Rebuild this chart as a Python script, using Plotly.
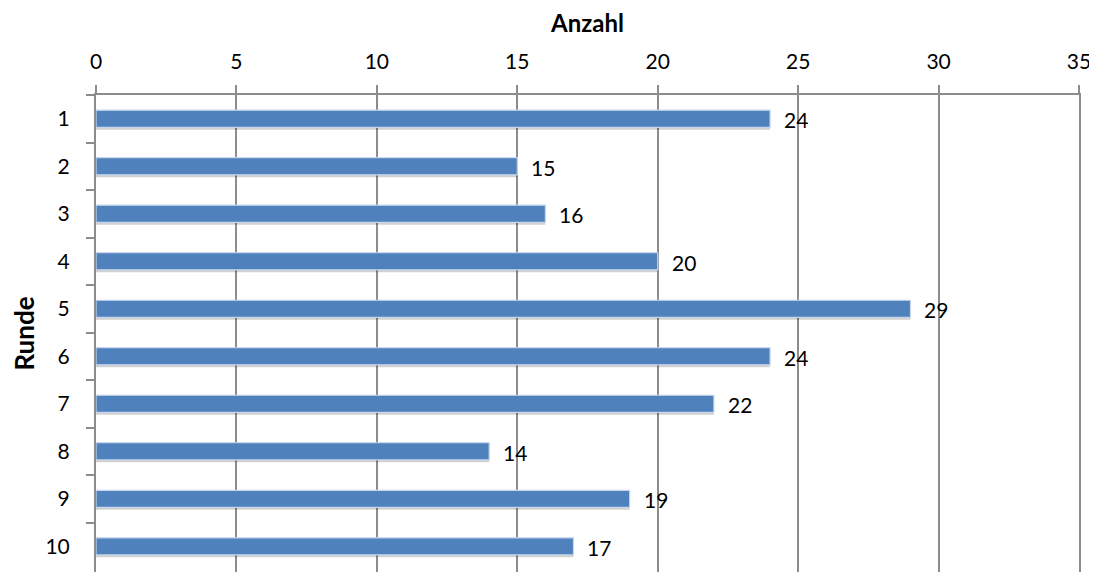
import plotly.graph_objects as go

runden = ["1", "2", "3", "4", "5", "6", "7", "8", "9", "10"]
anzahl = [24, 15, 16, 20, 29, 24, 22, 14, 19, 17]
x_ticks = [0, 5, 10, 15, 20, 25, 30, 35]

FONT = "Lato"

fig = go.Figure()
# soft shadow under each bar
fig.add_trace(go.Bar(
    x=anzahl, y=runden, orientation="h",
    marker=dict(color="rgba(0,0,0,0.18)", line=dict(width=0)),
    width=0.36, offset=-0.13, hoverinfo="skip",
))
fig.add_trace(go.Bar(
    x=anzahl, y=runden, orientation="h",
    marker=dict(color="#4F81BD", line=dict(color="#C6D6EC", width=1.2)),
    width=0.36, offset=-0.18, hoverinfo="skip",
))

for i, v in enumerate(anzahl):
    fig.add_annotation(x=v, y=i, text=str(v), showarrow=False,
                       xanchor="left", xshift=12, yshift=-1,
                       font=dict(family=FONT, size=21, color="#000000"))

fig.update_layout(
    width=1089, height=564,
    margin=dict(l=88, r=18, t=87, b=0),
    paper_bgcolor="white", plot_bgcolor="white",
    showlegend=False, barmode="overlay",
    font=dict(family=FONT, size=21, color="#000000"),
    xaxis=dict(
        side="top", range=[0, 35], tickvals=x_ticks,
        ticktext=[str(t) for t in x_ticks],
        showgrid=True, gridcolor="#8C8C8C", gridwidth=1.5,
        showline=True, linecolor="#8C8C8C", linewidth=2,
        ticks="outside", ticklen=8, tickcolor="#8C8C8C", tickwidth=1.5,
        zeroline=False, automargin=False,
        tickfont=dict(family=FONT, size=21),
        ticklabelstandoff=8,
        title=dict(text="<b>Anzahl</b>", font=dict(family=FONT, size=24), standoff=10),
    ),
    yaxis=dict(
        type="category", categoryorder="array", categoryarray=runden,
        range=[9.54, -0.5],
        showline=True, linecolor="#8C8C8C", linewidth=2, mirror=True,
        ticks="outside", tickson="boundaries", ticklen=8,
        tickcolor="#8C8C8C", tickwidth=1.5,
        showgrid=False, zeroline=False, automargin=False,
        tickfont=dict(family=FONT, size=21),
        ticklabelstandoff=20,
        title=dict(text="<b>Runde</b>", font=dict(family=FONT, size=26), standoff=16),
    ),
)

fig.write_html("out.html")
